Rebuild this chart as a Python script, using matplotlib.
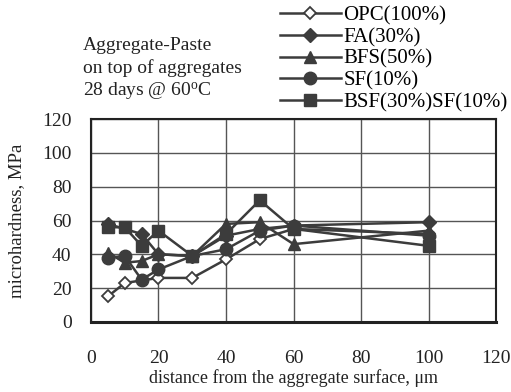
import matplotlib
matplotlib.use("Agg")
import matplotlib.pyplot as plt

plt.rcParams['font.family'] = ['Liberation Serif', 'DejaVu Serif']
plt.rcParams['mathtext.fontset'] = 'custom'
plt.rcParams['mathtext.rm'] = 'Liberation Serif'
plt.rcParams['mathtext.it'] = 'Liberation Serif:italic'

# Data
opc_x = [5, 10, 20, 30, 40, 50, 60, 100]
opc_y = [15, 23, 26, 26, 37, 49, 55, 52]
fa_x = [5, 15, 20, 30, 40, 50, 60, 100]
fa_y = [58, 52, 40, 39, 51, 55, 57, 59]
bfs_x = [5, 10, 15, 20, 30, 40, 50, 60, 100]
bfs_y = [41, 35, 36, 40, 39, 58, 59, 46, 54]
sf_x = [5, 10, 15, 20, 30, 40, 50, 60, 100]
sf_y = [38, 39, 25, 31, 39, 43, 54, 57, 51]
bsf_x = [5, 10, 15, 20, 30, 40, 50, 60, 100]
bsf_y = [56, 56, 45, 54, 39, 52, 72, 55, 45]

labels = ["OPC(100%)", "FA(30%)", "BFS(50%)", "SF(10%)", "BSF(30%)SF(10%)"]
xticks = [0, 20, 40, 60, 80, 100, 120]
yticks = [0, 20, 40, 60, 80, 100, 120]

c = '#3c3c3c'
tc = '#222222'
fig = plt.figure(figsize=(5.11, 3.92), dpi=100)
ax = fig.add_axes([0.178, 0.179, 0.793, 0.517])

series = [
    (opc_x, opc_y, dict(marker='D', markerfacecolor='white', markersize=6.5, markeredgewidth=1.3)),
    (fa_x, fa_y, dict(marker='D', markerfacecolor=c, markersize=7)),
    (bfs_x, bfs_y, dict(marker='^', markerfacecolor=c, markersize=9)),
    (sf_x, sf_y, dict(marker='o', markerfacecolor=c, markersize=9)),
    (bsf_x, bsf_y, dict(marker='s', markerfacecolor=c, markersize=9)),
]
handles = []
for (x, y, kw), lab in zip(series, labels):
    h, = ax.plot(x, y, color=c, linewidth=1.8, markeredgecolor=c, label=lab, zorder=3, **kw)
    handles.append(h)

ax.set_xlim(0, 120)
ax.set_ylim(0, 120)
ax.set_xticks(xticks)
ax.set_yticks(yticks)
ax.tick_params(length=0, labelsize=14, colors=tc)
ax.tick_params(axis='x', pad=20)
ax.tick_params(axis='y', pad=14)
ax.grid(True, color='#555555', linewidth=1.0)
ax.set_axisbelow(True)
for s in ax.spines.values():
    s.set_color(tc)
    s.set_linewidth(1.5)
ax.spines['bottom'].set_linewidth(2.2)

ax.set_xlabel("distance from the aggregate surface, μm", fontsize=13, labelpad=2, color=tc)
ax.set_ylabel("microhardness, MPa", fontsize=13.5, labelpad=12, color=tc)

fig.text(83/511, 1-45/392, "Aggregate-Paste", fontsize=14, va='center', ha='left', color=tc)
fig.text(83/511, 1-68/392, "on top of aggregates", fontsize=14, va='center', ha='left', color=tc)
fig.text(83/511, 1-91/392, r"28 days @ 60$^{\mathrm{o}}$C", fontsize=14, va='center', ha='left', color=tc)

fig.legend(handles=handles, labels=labels, loc='upper left', bbox_to_anchor=(278/511, 0.99),
           frameon=False, fontsize=15, handlelength=2.9, handletextpad=0.15,
           labelspacing=0.1, borderaxespad=0.0, borderpad=0.1)

fig.savefig("out.png", dpi=100)
